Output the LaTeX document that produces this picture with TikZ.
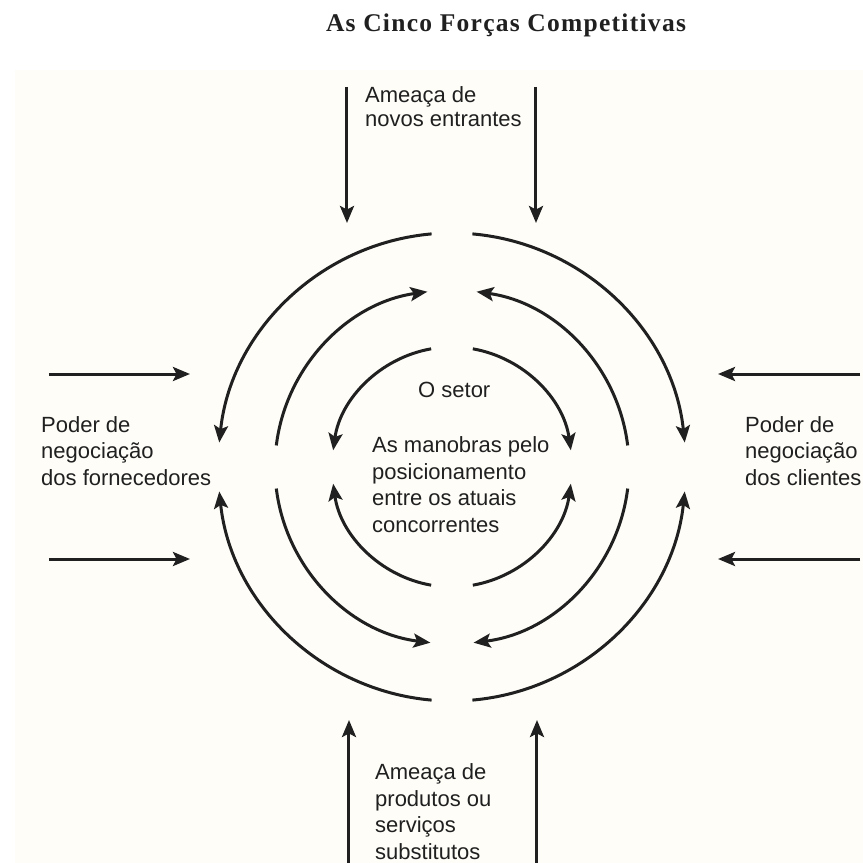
\documentclass[tikz,border=0pt]{standalone}
\usepackage{fontspec}
\setmainfont{Liberation Sans}
\newfontfamily\titlefont[LetterSpace=5]{Liberation Serif}
\usetikzlibrary{arrows.meta}
\definecolor{fundo}{RGB}{254,253,248}
\definecolor{tinta}{RGB}{32,32,32}

\begin{document}
\begin{tikzpicture}[x=1pt,y=1pt,
    force/.style={draw=tinta,line width=3pt,
      -{Stealth[length=17pt,width=14pt,inset=3.5pt]}},
    rotulo/.style={anchor=base west,align=left,inner sep=0pt,text=tinta,
      font=\fontsize{22}{26.5}\selectfont}]
  \useasboundingbox (-452,467) rectangle (411,-396);
  \fill[fundo] (-437,397) rectangle (411,-396);

  \node[font=\titlefont\bfseries\fontsize{25.5}{30}\selectfont,text=tinta,
    anchor=base,inner sep=0pt] (titulo) at (54,435) {As Cinco Forças Competitivas};

  % o setor
  \coordinate (setor) at (0,0);
  \foreach \r/\s/\e in {120/100/172, 120/80/8, 120/260/188, 120/280/352,
                        177/173/98, 177/7/82, 177/187/263, 177/353/277,
                        234/95/174, 234/85/6, 234/265/186, 234/275/354}
    \draw[force] (setor) ++(\s:\r) arc[start angle=\s,end angle=\e,radius=\r];

  \node[rotulo] (ator) at (-34,70) {O setor};
  \node[rotulo] (manobras) at (-80,-65) {As manobras pelo\\posicionamento\\entre os atuais\\concorrentes};

  % entrantes
  \node[rotulo,font=\fontsize{22}{24}\selectfont] (entrantes) at (-87,340) {Ameaça de\\novos entrantes};
  \foreach \x/\n in {-105/a,84/b} {
    \coordinate (ent\n) at (\x,380);
    \coordinate (ent\n') at (\x,244);
    \draw[force] (ent\n) -- (ent\n');
  }

  % fornecedores e clientes
  \node[rotulo] (fornecedores) at (-411,-18) {Poder de\\negociação\\dos fornecedores};
  \node[rotulo] (clientes) at (293,-18) {Poder de\\negociação\\dos clientes};
  \foreach \y/\n in {93/a,-92/b} {
    \coordinate (for\n) at (-403,\y);
    \coordinate (for\n') at (-262,\y);
    \coordinate (cli\n) at (408,\y);
    \coordinate (cli\n') at (266,\y);
    \draw[force] (for\n) -- (for\n');
    \draw[force] (cli\n) -- (cli\n');
  }

  % substitutos
  \node[rotulo] (substitutos) at (-77,-392) {Ameaça de\\produtos ou\\serviços\\substitutos};
  \foreach \x/\n in {-103/a,85/b} {
    \coordinate (sub\n) at (\x,-396);
    \coordinate (sub\n') at (\x,-253);
    \draw[force] (sub\n) -- (sub\n');
  }
\end{tikzpicture}
\end{document}
